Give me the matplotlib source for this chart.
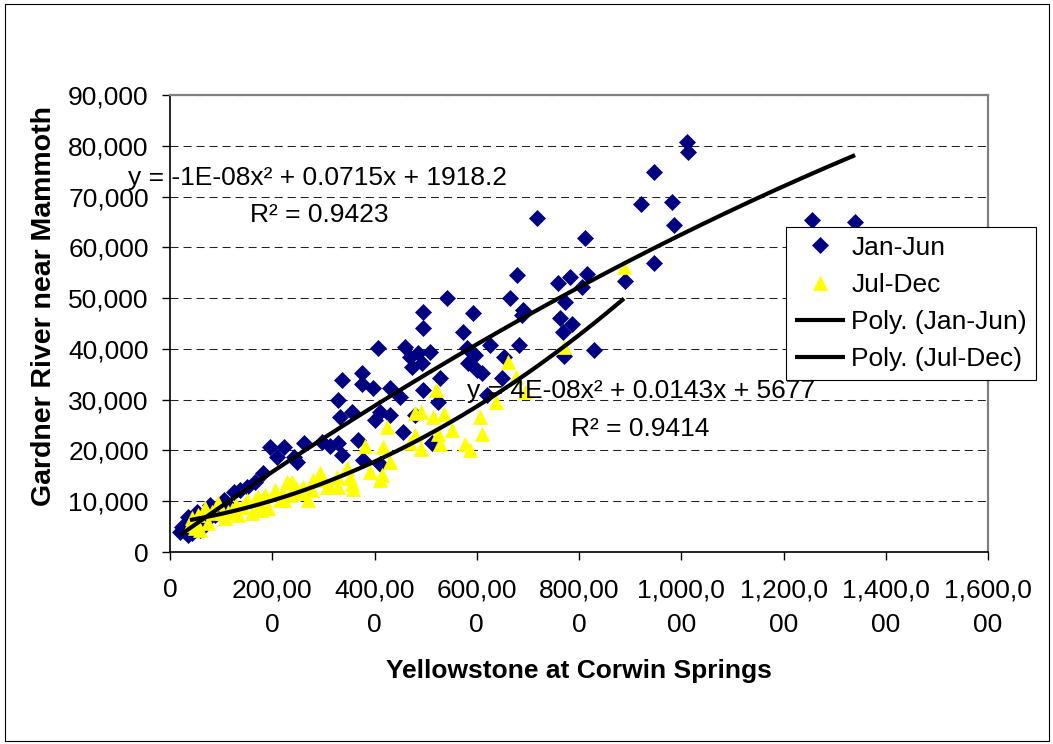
import matplotlib
matplotlib.use("Agg")
import matplotlib.pyplot as plt
import numpy as np
from matplotlib.ticker import FuncFormatter
from matplotlib.patches import Rectangle

plt.rcParams['font.family'] = ['Liberation Sans', 'DejaVu Sans']

# ---------------- data ----------------
series_names = ["Jan-Jun", "Jul-Dec"]
trend_names = ["Poly. (Jan-Jun)", "Poly. (Jul-Dec)"]

jan_jun_x = [1012000, 1014000, 947000, 921000, 982000, 986000, 718000, 812000, 1256000, 1340000,
             947000, 890000, 679000, 759000, 782000, 816000, 806000, 665000, 773000, 690000,
             688000, 763000, 786000, 769000, 683000, 626000, 771000, 829000, 653000, 610000,
             649000, 620000, 542000, 495000, 593000, 495000, 573000, 407000, 460000, 469000,
             485000, 509000, 473000, 493000, 528000, 581000, 597000, 583000, 600000, 336000,
             376000, 376000, 397000, 430000, 450000, 329000, 356000, 411000, 430000, 333000,
             401000, 456000, 329000, 368000, 336000, 512000, 378000, 411000, 479000, 495000,
             524000, 196000, 223000, 209000, 243000, 262000, 248000, 297000, 313000, 182000,
             151000, 125000, 106000, 78000, 53000, 35000, 23000, 20000, 35000, 49000,
             68000, 88000, 137000, 166000, 113000, 43000, 59000]
jan_jun_y = [80700, 78800, 74800, 68500, 68900, 64400, 65800, 61800, 65400, 65000,
             56900, 53400, 54500, 53000, 54100, 54700, 52200, 50000, 49200, 47600,
             46700, 46100, 44900, 43300, 40800, 40800, 38600, 39800, 38400, 35200,
             34300, 30900, 50000, 47300, 47100, 44100, 43300, 40200, 40400, 38400,
             39200, 39400, 36400, 37200, 34300, 40200, 38800, 37200, 35800, 33900,
             35200, 33100, 32300, 32300, 30500, 29900, 27600, 27600, 27000, 26600,
             26000, 23600, 21500, 22100, 19100, 21500, 18100, 17300, 27000, 31900,
             29500, 20700, 20700, 18700, 18700, 21500, 17700, 21700, 20900, 15600,
             12800, 11800, 10200, 9300, 7900, 6900, 4900, 3900, 3300, 4700,
             5900, 7300, 12200, 13800, 9300, 3700, 4300]

jul_dec_x = [888000, 771000, 661000, 677000, 694000, 638000, 606000, 610000, 520000, 479000,
             491000, 514000, 536000, 424000, 552000, 479000, 524000, 381000, 417000, 469000,
             491000, 528000, 577000, 587000, 430000, 327000, 391000, 415000, 356000, 358000,
             293000, 280000, 307000, 254000, 411000, 346000, 239000, 229000, 352000, 329000,
             205000, 186000, 172000, 151000, 141000, 121000, 94000, 88000, 68000, 55000,
             43000, 39000, 74000, 108000, 133000, 160000, 192000, 260000, 278000, 297000,
             270000, 48000, 102000, 176000, 215000, 235000, 313000, 59000, 51000, 82000,
             113000, 129000, 166000, 221000, 246000, 180000, 223000]
jul_dec_y = [56100, 40400, 37400, 34500, 31500, 29500, 26600, 23200, 31900, 27400,
             27600, 26600, 27200, 24600, 24000, 23000, 23200, 20900, 20700, 21500,
             20300, 21300, 21300, 20100, 17700, 14800, 15800, 15200, 13400, 12400,
             15600, 14200, 12800, 11600, 14200, 16500, 13800, 13800, 14600, 12800,
             12200, 11200, 10800, 10200, 8900, 8300, 9600, 7700, 8700, 7300,
             6700, 5300, 5700, 6700, 7300, 7700, 8700, 12800, 12200, 14200,
             10200, 4700, 7700, 9300, 10200, 11200, 12800, 4300, 5900, 7900,
             7900, 9300, 10200, 11600, 12600, 8300, 10200]

# polynomial trendline coefficients (displayed rounded in the chart's equations)
jan_jun_coef = [-1.09e-08, 0.0715, 1918.2]
jul_dec_coef = [4e-08, 0.0143, 5677]
equation_labels = ["y = -1E-08x\u00b2 + 0.0715x + 1918.2", "y = 4E-08x\u00b2 + 0.0143x + 5677"]
r2_labels = ["R\u00b2 = 0.9423", "R\u00b2 = 0.9414"]

x_ticks = [0, 200000, 400000, 600000, 800000, 1000000, 1200000, 1400000, 1600000]
x_tick_labels = ["0", "200,00\n0", "400,00\n0", "600,00\n0", "800,00\n0",
                 "1,000,0\n00", "1,200,0\n00", "1,400,0\n00", "1,600,0\n00"]
y_ticks = [0, 10000, 20000, 30000, 40000, 50000, 60000, 70000, 80000, 90000]

x_title = "Yellowstone at Corwin Springs"
y_title = "Gardner River near Mammoth"

# ---------------- figure ----------------
W, H = 1053, 744
fig = plt.figure(figsize=(W / 100, H / 100), dpi=100)
fig.patch.set_facecolor('white')


def fx(px):
    return px / W


def fy(py):
    return 1 - py / H


ax = fig.add_axes([fx(170), fy(552), (988 - 170) / W, (552 - 95) / H])

FS = 19
navy = '#000080'
yellow = '#FFFF00'

ax.plot(jan_jun_x, jan_jun_y, ls='none', marker='D', ms=8, mfc=navy, mec=navy,
        mew=0.5, label=series_names[0], zorder=3)
ax.plot(jul_dec_x, jul_dec_y, ls='none', marker='^', ms=10.5, mfc=yellow, mec=yellow,
        mew=0.5, label=series_names[1], zorder=3.1)

for xs_data, coef, name in [(jan_jun_x, jan_jun_coef, trend_names[0]),
                            (jul_dec_x, jul_dec_coef, trend_names[1])]:
    xs = np.linspace(min(xs_data), max(xs_data), 300)
    ax.plot(xs, np.polyval(coef, xs), color='black', lw=3, label=name, zorder=4,
            solid_capstyle='butt')

ax.set_xlim(0, 1600000)
ax.set_ylim(0, 90000)
ax.set_xticks(x_ticks)
ax.set_xticklabels(x_tick_labels, linespacing=1.55)
ax.set_yticks(y_ticks)
ax.yaxis.set_major_formatter(FuncFormatter(lambda v, p: f"{v:,.0f}"))

ax.yaxis.grid(True, color='#222222', lw=0.75, linestyle=(0, (7.7, 4.8)))
ax.xaxis.grid(False)

for s in ['left', 'bottom']:
    ax.spines[s].set_color('black')
    ax.spines[s].set_linewidth(1.2)
for s in ['top', 'right']:
    ax.spines[s].set_color('#808080')
    ax.spines[s].set_linewidth(1.6)

ax.tick_params(axis='both', direction='out', length=5.8, width=1.0, color='black',
               labelsize=FS, labelcolor='black')
ax.tick_params(axis='y', pad=9.5)
ax.tick_params(axis='x', pad=13)

# axis titles
fig.text(fx(579), fy(678), x_title, ha='center', va='baseline', fontsize=FS,
         fontweight='bold')
fig.text(fx(51), fy(306), y_title, ha='center', va='baseline', fontsize=20.5,
         fontweight='bold', rotation=90, rotation_mode='anchor')

# trendline equations
fig.text(fx(318), fy(185), equation_labels[0], ha='center', va='baseline', fontsize=FS, zorder=6)
fig.text(fx(319), fy(222), r2_labels[0], ha='center', va='baseline', fontsize=FS, zorder=6)
fig.text(fx(641), fy(398), equation_labels[1], ha='center', va='baseline', fontsize=FS, zorder=6)
fig.text(fx(640), fy(436), r2_labels[1], ha='center', va='baseline', fontsize=FS, zorder=6)

leg = ax.legend(loc='upper left', bbox_to_anchor=(fx(786), fy(227)),
                bbox_transform=fig.transFigure, borderaxespad=0, fontsize=FS,
                frameon=True, fancybox=False, framealpha=1, edgecolor='black',
                borderpad=0.33, labelspacing=0.5, handlelength=1.9,
                handletextpad=0.25, numpoints=1)
leg.get_frame().set_linewidth(0.8)
leg.set_zorder(10)

# outer chart border
fig.patches.append(Rectangle((fx(4.5), fy(740.5)), (1049 - 4.5) / W, (740.5 - 4) / H,
                             transform=fig.transFigure, fill=False, edgecolor='black',
                             lw=0.8, zorder=0))

fig.savefig('out.png', dpi=100, facecolor='white')
